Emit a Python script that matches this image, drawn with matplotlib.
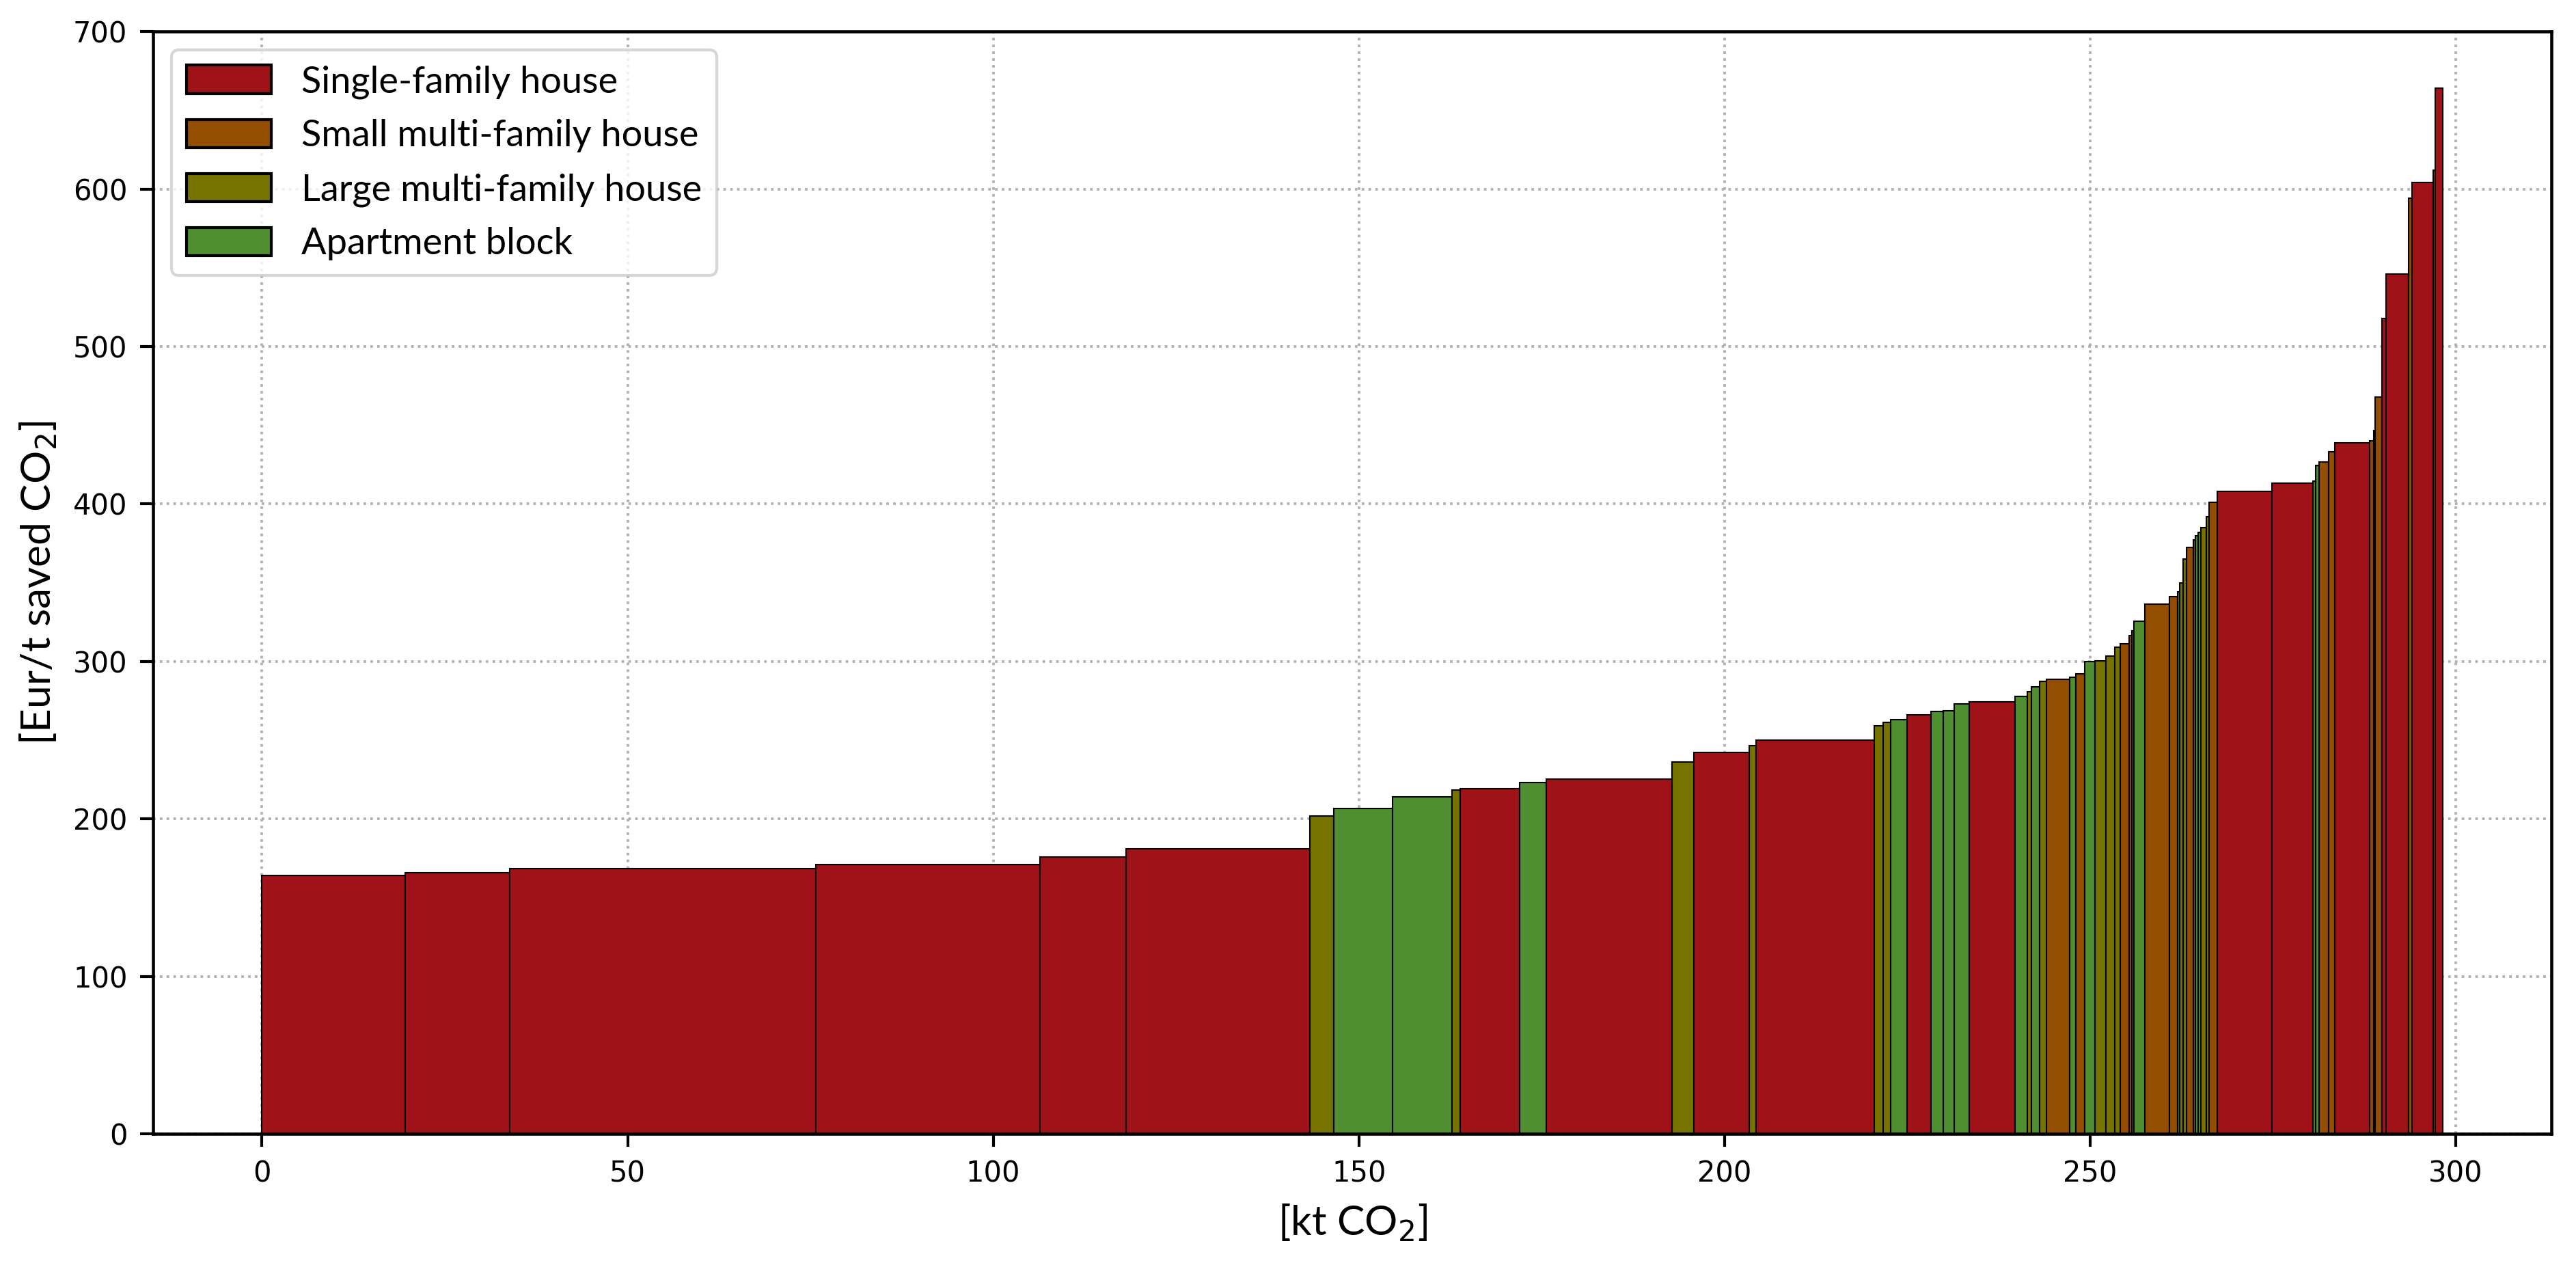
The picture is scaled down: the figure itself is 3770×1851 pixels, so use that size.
import numpy as np
import matplotlib
matplotlib.use("Agg")
import matplotlib.pyplot as plt
from matplotlib.patches import Patch

# abatement per measure [kt CO2], in merit order
widths = [19.6, 14.3, 41.8, 30.7, 11.8, 25.1, 3.3, 8.0, 8.1, 1.2,
          8.1, 3.6, 17.2, 3.0, 7.6, 0.9, 16.2, 1.2, 1.0, 2.3,
          3.2, 1.7, 1.5, 2.1, 6.2, 1.7, 0.6, 1.1, 0.9, 3.2,
          0.9, 1.2, 1.4, 1.5, 1.2, 0.7, 1.2, 0.4, 0.3, 1.5,
          3.4, 1.1, 0.3, 0.4, 0.5, 0.9, 0.3, 0.4, 0.4, 0.7,
          0.4, 1.1, 7.5, 5.6, 0.4, 0.4, 1.3, 0.9, 4.7, 0.6,
          0.2, 0.9, 0.6, 3.1, 0.4, 2.9, 0.3, 1.0]

# specific abatement cost [Eur/t saved CO2]
costs = [164, 166, 168.4, 171, 176, 181, 202, 206.5, 214, 218.5,
         219, 223, 225.5, 236.3, 242, 246.5, 250, 259, 261.5, 263,
         266.2, 268.3, 268.9, 273, 274.5, 278, 281, 284, 287.5, 288.5,
         290, 292.3, 299.8, 300.2, 303.2, 309, 311.2, 316.3, 319.6, 325.6,
         336.5, 341.3, 344, 350, 365, 372.3, 377.4, 380, 382, 385,
         392, 400.9, 407.8, 413.3, 414.7, 424.3, 426.6, 433.4, 439, 440,
         446.7, 467.9, 518, 546, 594, 604, 612, 664]

# building type: S single-family, M small multi-family, L large multi-family, A apartment block
types = ["S", "S", "S", "S", "S", "S", "L", "A", "A", "L",
         "S", "A", "S", "L", "S", "L", "S", "L", "L", "A",
         "S", "A", "A", "A", "S", "A", "L", "A", "L", "M",
         "A", "M", "A", "L", "L", "L", "M", "M", "L", "A",
         "M", "M", "A", "L", "L", "M", "M", "A", "A", "L",
         "L", "M", "S", "S", "A", "A", "M", "M", "S", "M",
         "M", "M", "S", "S", "M", "S", "M", "S"]

type_names = {"S": "Single-family house", "M": "Small multi-family house",
              "L": "Large multi-family house", "A": "Apartment block"}
type_colors = {"S": "#9e1218", "M": "#944e02", "L": "#767300", "A": "#4f8e31"}

label_font = "Lato"

widths = np.array(widths)
lefts = np.concatenate([[0], np.cumsum(widths)[:-1]])

fig = plt.figure(figsize=(3770 / 300, 1851 / 300), dpi=300)
ax = fig.add_axes([0.0594, 0.1037, 0.9311, 0.8713])

ax.bar(lefts, costs, width=widths, align="edge",
       color=[type_colors[t] for t in types],
       edgecolor="black", linewidth=0.5, zorder=2)

ax.set_ylim(0, 700)
ax.set_xticks([0, 50, 100, 150, 200, 250, 300])
ax.set_yticks(range(0, 701, 100))
ax.tick_params(labelsize=10, length=4.5, width=1.0, pad=4.5)
for sp in ax.spines.values():
    sp.set_linewidth(1.1)
ax.grid(True, linestyle=":", color="#b0b0b0", linewidth=0.9, zorder=0)
ax.set_axisbelow(True)

ax.set_xlabel(r"[kt CO$_2$]", fontsize=14.5, family=label_font, labelpad=5)
ax.set_ylabel(r"[Eur/t saved CO$_2$]", fontsize=14.5, family=label_font, labelpad=5)

handles = [Patch(facecolor=type_colors[k], edgecolor="black", linewidth=1.0,
                 label=type_names[k]) for k in ["S", "M", "L", "A"]]
ax.legend(handles=handles, loc="upper left", prop={"family": label_font, "size": 13},
          handlelength=2.3, handleheight=0.8, labelspacing=0.55, framealpha=0.8)

fig.savefig("out.png", dpi=300)
